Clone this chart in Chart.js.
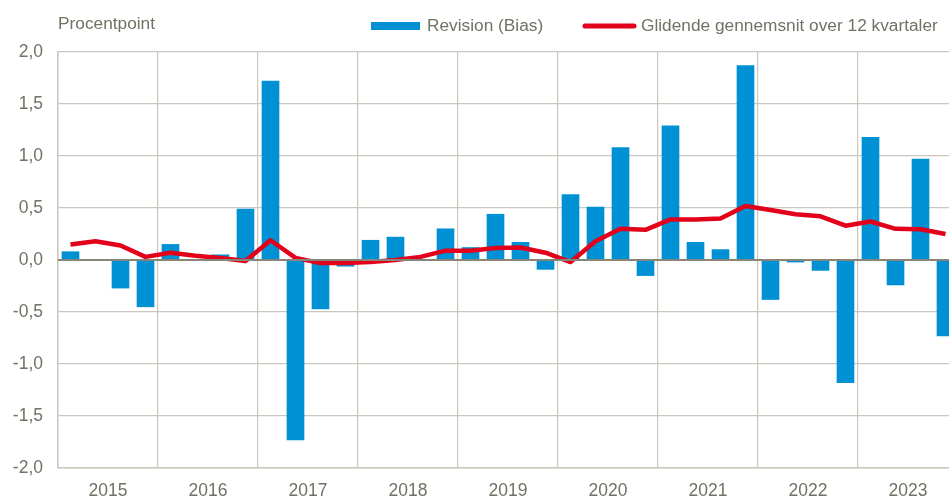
<!DOCTYPE html>
<html>
<head>
<meta charset="utf-8">
<script src="https://cdn.jsdelivr.net/npm/chart.js@4"></script>
<style>
	html, body { margin: 0; padding: 0; background: #fff; overflow: hidden; }
	#wrap { width: 949px; height: 497px; overflow: hidden; }
	#box { width: 960px; height: 497px; position: relative; }
</style>
</head>
<body>
<div id="wrap"><div id="box"><canvas id="biasChart"></canvas></div></div>
<script>
// Data
const years = ['2015', '2016', '2017', '2018', '2019', '2020', '2021', '2022', '2023'];
const quarters = ['K1', 'K2', 'K3', 'K4'];
const revision = [
	0.08, 0.00, -0.27, -0.45,
	0.15, 0.00, 0.05, 0.49,
	1.72, -1.73, -0.47, -0.06,
	0.19, 0.22, 0.00, 0.30,
	0.12, 0.44, 0.17, -0.09,
	0.63, 0.51, 1.08, -0.15,
	1.29, 0.17, 0.10, 1.87,
	-0.38, -0.02, -0.10, -1.18,
	1.18, -0.24, 0.97, -0.73
];
const movingAvg = [
	0.15, 0.18, 0.14, 0.03,
	0.07, 0.04, 0.02, -0.01,
	0.19, 0.02, -0.03, -0.03,
	-0.02, 0.00, 0.03, 0.09,
	0.09, 0.115, 0.12, 0.07,
	-0.02, 0.18, 0.30, 0.29,
	0.39, 0.39, 0.40, 0.52,
	0.48, 0.44, 0.42, 0.33,
	0.37, 0.30, 0.295, 0.25
];
const yTicks = [-2, -1.5, -1, -0.5, 0, 0.5, 1, 1.5, 2];

const labels = [];
years.forEach(y => quarters.forEach(q => labels.push(y + ' ' + q)));

const textColor = '#717165';
const gridColor = '#cac8be';
const fontFamily = "'Liberation Sans', Arial, sans-serif";

// zero line above the bars, plus title and legend
const extras = {
	id: 'extras',
	afterDatasetsDraw(chart) {
		const { ctx, chartArea, scales } = chart;
		const y0 = scales.y.getPixelForValue(0);
		ctx.save();
		ctx.strokeStyle = '#86857a';
		ctx.lineWidth = 2;
		ctx.beginPath();
		ctx.moveTo(chartArea.left, y0);
		ctx.lineTo(chartArea.right, y0);
		ctx.stroke();
		ctx.restore();
	},
	afterDraw(chart) {
		const ctx = chart.ctx;
		const ds = chart.data.datasets;
		ctx.save();
		ctx.font = '17.3px ' + fontFamily;
		ctx.fillStyle = textColor;
		ctx.textBaseline = 'middle';
		ctx.textAlign = 'left';
		ctx.fillText('Procentpoint', 58, 24);

		// bar legend item
		ctx.fillStyle = ds[1].backgroundColor;
		ctx.fillRect(371, 22, 49, 8);
		ctx.fillStyle = textColor;
		ctx.fillText(ds[1].label, 427, 26);

		// line legend item
		ctx.strokeStyle = ds[0].borderColor;
		ctx.lineWidth = 5;
		ctx.lineCap = 'round';
		ctx.beginPath();
		ctx.moveTo(585, 26);
		ctx.lineTo(634, 26);
		ctx.stroke();
		ctx.fillText(ds[0].label, 641, 26);
		ctx.restore();
	}
};

const chart = new Chart(document.getElementById('biasChart'), {
	type: 'bar',
	data: {
		labels: labels,
		datasets: [{
			type: 'line',
			label: 'Glidende gennemsnit over 12 kvartaler',
			data: movingAvg,
			borderColor: '#e2001a',
			backgroundColor: '#e2001a',
			borderWidth: 4.5,
			pointRadius: 0,
			tension: 0,
			borderJoinStyle: 'round',
			order: 0
		}, {
			label: 'Revision (Bias)',
			data: revision,
			backgroundColor: '#0091d5',
			borderWidth: 0,
			barThickness: 17,
			order: 1
		}]
	},
	options: {
		responsive: true,
		maintainAspectRatio: false,
		animation: false,
		layout: { padding: { top: 52, right: 2, left: 0, bottom: 0 } },
		plugins: {
			legend: { display: false },
			tooltip: { enabled: false }
		},
		scales: {
			x: {
				offset: true,
				grid: {
					offset: true,
					drawTicks: false,
					color: ctx => (ctx.index % 4 === 0 ? gridColor : 'rgba(0,0,0,0)'),
					lineWidth: 1.2
				},
				border: { color: gridColor, width: 1.5 },
				ticks: {
					autoSkip: false,
					maxRotation: 0,
					padding: 13,
					labelOffset: 12.5,
					color: textColor,
					font: { family: fontFamily, size: 17.5 },
					callback: (v, i) => (i % 4 === 1 ? years[Math.floor(i / 4)] : '')
				},
				afterFit: scale => { scale.height = 29; }
			},
			y: {
				min: yTicks[0],
				max: yTicks[yTicks.length - 1],
				afterBuildTicks: scale => { scale.ticks = yTicks.map(v => ({ value: v })); },
				grid: { color: gridColor, drawTicks: false, lineWidth: 1.2 },
				border: { color: gridColor, width: 1.5 },
				ticks: {
					padding: 15,
					color: textColor,
					font: { family: fontFamily, size: 17.5 },
					callback: v => v.toFixed(1).replace('.', ',')
				},
				afterFit: scale => { scale.width = 58; }
			}
		}
	},
	plugins: [extras]
});
</script>
</body>
</html>
